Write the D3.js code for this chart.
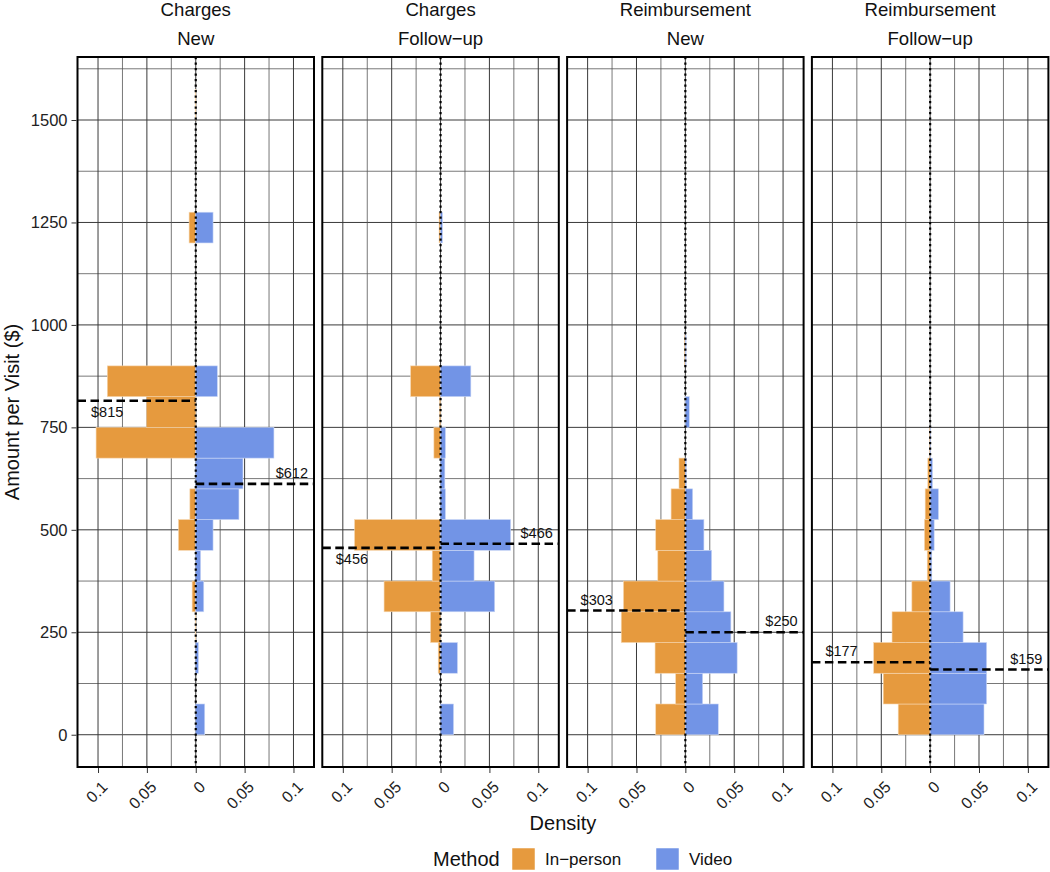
<!DOCTYPE html>
<html>
<head>
<meta charset="utf-8">
<script src="https://cdn.jsdelivr.net/npm/d3@7"></script>
<style>
  html, body { margin: 0; padding: 0; background: #fff; }
  svg { display: block; font-family: "Liberation Sans", Arial, Helvetica, sans-serif; }
</style>
</head>
<body>
<svg id="chart" width="1050" height="872"></svg>
<script>
// ---------------- data ----------------
const measures   = ["Charges", "Charges", "Reimbursement", "Reimbursement"];
const visitTypes = ["New", "Follow\u2212up", "New", "Follow\u2212up"];
const methods    = ["In\u2212person", "Video"];

// histogram bins (lower edge, $), bin width 75
const binStarts = [0, 75, 150, 225, 300, 375, 450, 525, 600, 675, 750, 825, 900, 975, 1050, 1125, 1200, 1275, 1350, 1425, 1500];
const binWidth = 75;

// densities per panel, one value per bin
const inPersonCharNew = [0, 0, 0, 0.0005, 0.0037, 0, 0.0177, 0.006, 0, 0.102, 0.0503, 0.0905, 0, 0, 0, 0, 0.0068, 0, 0, 0, 0.0005];
const videoCharNew    = [0.0092, 0, 0.0027, 0, 0.0082, 0.005, 0.0177, 0.0442, 0.0483, 0.080, 0, 0.0221, 0, 0, 0, 0, 0.0177, 0, 0, 0, 0];

const inPersonCharFU  = [0, 0, 0.0024, 0.0102, 0.0578, 0.0085, 0.088, 0, 0, 0.0068, 0.001, 0.0306, 0, 0, 0, 0, 0.0015, 0, 0, 0, 0];
const videoCharFU     = [0.0133, 0, 0.0173, 0, 0.0554, 0.0343, 0.0717, 0.005, 0.0044, 0.005, 0, 0.031, 0, 0, 0, 0, 0.002, 0, 0, 0, 0];

const inPersonReimNew = [0.0303, 0.0099, 0.031, 0.0656, 0.0633, 0.0282, 0.0303, 0.0146, 0.0065, 0, 0, 0, 0.0008, 0, 0, 0, 0, 0, 0, 0, 0];
const videoReimNew    = [0.0337, 0.0177, 0.053, 0.0466, 0.0395, 0.0269, 0.019, 0.0075, 0.001, 0, 0.004, 0, 0.0008, 0, 0, 0, 0, 0, 0, 0, 0];

const inPersonReimFU  = [0.0327, 0.048, 0.0578, 0.039, 0.0187, 0.003, 0.0058, 0.0051, 0.0024, 0.0005, 0, 0, 0, 0, 0, 0, 0, 0, 0, 0, 0];
const videoReimFU     = [0.0551, 0.0578, 0.0578, 0.0337, 0.0204, 0.0017, 0.0041, 0.0085, 0.0024, 0.0005, 0, 0, 0, 0, 0, 0, 0, 0, 0, 0, 0];

const inPersonSeries = [inPersonCharNew, inPersonCharFU, inPersonReimNew, inPersonReimFU];
const videoSeries    = [videoCharNew, videoCharFU, videoReimNew, videoReimFU];

// medians ($)
const inPersonMedian = [815, 456, 303, 177];
const videoMedian    = [612, 466, 250, 159];

// tick labels
const yTicks = [0, 250, 500, 750, 1000, 1250, 1500];
const xTicks = [-0.1, -0.05, 0, 0.05, 0.1];

// ---------------- style / layout ----------------
const colors = { ip: "#E69A3E", video: "#7294E6" };
const inPersonLabelSide = ["below", "below", "above", "above"]; // label placement style
const plotTop = 57, plotBottom = 767;
const panelLeft0 = 77.5, panelPitch = 244.8, panelWidth = 236.5;
const fontFam = '"Liberation Sans", Arial, Helvetica, sans-serif';

const svg = d3.select("#chart");

const y = d3.scaleLinear().domain([-78.75, 1653.75]).range([plotBottom, plotTop]);

const yGrid = d3.range(0, 1626, 125);
const xGrid = d3.range(-0.1, 0.1001, 0.025);

measures.forEach((m, i) => {
  const left = panelLeft0 + i * panelPitch;
  const x = d3.scaleLinear().domain([-0.121, 0.121]).range([left, left + panelWidth]);
  const g = svg.append("g");

  // grid
  g.selectAll(".hg").data(yGrid).enter().append("line")
    .attr("x1", left).attr("x2", left + panelWidth)
    .attr("y1", d => y(d)).attr("y2", d => y(d))
    .attr("stroke", d => d % 250 === 0 ? "#3a3a3a" : "#555")
    .attr("stroke-width", d => d % 250 === 0 ? 1 : 0.8);
  g.selectAll(".vg").data(xGrid).enter().append("line")
    .attr("y1", plotTop).attr("y2", plotBottom)
    .attr("x1", d => x(d)).attr("x2", d => x(d))
    .attr("stroke", (d, k) => k % 2 === 0 ? "#3a3a3a" : "#555")
    .attr("stroke-width", (d, k) => k % 2 === 0 ? 1 : 0.8);

  // bars
  const ip = inPersonSeries[i], vd = videoSeries[i];
  g.selectAll(".ipbar").data(binStarts.map((b, k) => ({ b, v: ip[k] })).filter(d => d.v > 0))
    .enter().append("rect")
    .attr("x", d => x(-d.v)).attr("width", d => x(0) - x(-d.v))
    .attr("y", d => y(d.b + binWidth)).attr("height", d => y(d.b) - y(d.b + binWidth))
    .attr("fill", colors.ip).attr("stroke", "#f6d6ae").attr("stroke-width", 0.6);
  g.selectAll(".vbar").data(binStarts.map((b, k) => ({ b, v: vd[k] })).filter(d => d.v > 0))
    .enter().append("rect")
    .attr("x", x(0)).attr("width", d => x(d.v) - x(0))
    .attr("y", d => y(d.b + binWidth)).attr("height", d => y(d.b) - y(d.b + binWidth))
    .attr("fill", colors.video).attr("stroke", "#c9d6f6").attr("stroke-width", 0.6);

  // zero dotted line
  g.append("line")
    .attr("x1", x(0)).attr("x2", x(0)).attr("y1", plotTop).attr("y2", plotBottom)
    .attr("stroke", "#000").attr("stroke-width", 2.2).attr("stroke-dasharray", "2.2,3.3");

  // median dashed lines
  g.append("line")
    .attr("x1", left).attr("x2", x(0)).attr("y1", y(inPersonMedian[i])).attr("y2", y(inPersonMedian[i]))
    .attr("stroke", "#000").attr("stroke-width", 2.6).attr("stroke-dasharray", "8.5,4.5");
  g.append("line")
    .attr("x1", x(0)).attr("x2", left + panelWidth).attr("y1", y(videoMedian[i])).attr("y2", y(videoMedian[i]))
    .attr("stroke", "#000").attr("stroke-width", 2.6).attr("stroke-dasharray", "8.5,4.5");

  // median labels
  g.append("text")
    .attr("x", left + 13.5)
    .attr("y", y(inPersonMedian[i]) + (inPersonLabelSide[i] === "below" ? 16 : -6))
    .attr("font-size", 14.5).attr("fill", "#111")
    .text("$" + inPersonMedian[i]);
  g.append("text")
    .attr("x", left + panelWidth - 6)
    .attr("y", y(videoMedian[i]) - 6)
    .attr("text-anchor", "end")
    .attr("font-size", 14.5).attr("fill", "#111")
    .text("$" + videoMedian[i]);

  // border
  g.append("rect")
    .attr("x", left).attr("y", plotTop).attr("width", panelWidth).attr("height", plotBottom - plotTop)
    .attr("fill", "none").attr("stroke", "#000").attr("stroke-width", 2);

  // x axis
  const xa = svg.append("g").attr("transform", `translate(0,${plotBottom + 1})`)
    .call(d3.axisBottom(x).tickValues(xTicks).tickSize(5).tickFormat(d => String(Math.abs(d))));
  xa.select(".domain").remove();
  xa.selectAll(".tick line").attr("stroke", "#333").attr("stroke-width", 1);
  xa.selectAll(".tick text")
    .attr("font-family", fontFam).attr("font-size", 16).attr("fill", "#222")
    .attr("text-anchor", "end")
    .attr("x", 0).attr("y", 0).attr("dy", "0.71em")
    .attr("transform", "translate(2,12) rotate(-45)");

  // strip titles
  svg.append("text").attr("x", left + panelWidth / 2).attr("y", 16)
    .attr("text-anchor", "middle").attr("font-size", 18.6).attr("fill", "#111").text(m);
  svg.append("text").attr("x", left + panelWidth / 2).attr("y", 45)
    .attr("text-anchor", "middle").attr("font-size", 18.6).attr("fill", "#111").text(visitTypes[i]);
});

// y axis
const ya = svg.append("g").attr("transform", `translate(${panelLeft0 - 1},0)`)
  .call(d3.axisLeft(y).tickValues(yTicks).tickSize(5).tickPadding(4).tickFormat(d3.format("d")));
ya.select(".domain").remove();
ya.selectAll(".tick line").attr("stroke", "#333");
ya.selectAll(".tick text").attr("font-family", fontFam).attr("font-size", 16.5).attr("fill", "#222");

// axis titles
svg.append("text")
  .attr("transform", `translate(19,${(plotTop + plotBottom) / 2}) rotate(-90)`)
  .attr("text-anchor", "middle").attr("font-size", 20).attr("fill", "#111")
  .text("Amount per Visit ($)");
const midX = (panelLeft0 + panelLeft0 + 3 * panelPitch + panelWidth) / 2;
svg.append("text").attr("x", midX).attr("y", 830)
  .attr("text-anchor", "middle").attr("font-size", 20).attr("fill", "#111").text("Density");

// legend
const leg = svg.append("g");
leg.append("text").attr("x", 433).attr("y", 866).attr("font-size", 20).attr("fill", "#111").text("Method");
const legItems = [
  { label: methods[0], color: colors.ip, x: 512 },
  { label: methods[1], color: colors.video, x: 656 }
];
legItems.forEach(d => {
  leg.append("rect").attr("x", d.x).attr("y", 848).attr("width", 23).attr("height", 22)
    .attr("fill", d.color).attr("stroke", "#fff").attr("stroke-width", 0.5);
  leg.append("text").attr("x", d.x + 33).attr("y", 865).attr("font-size", 17).attr("fill", "#111").text(d.label);
});
</script>
</body>
</html>
